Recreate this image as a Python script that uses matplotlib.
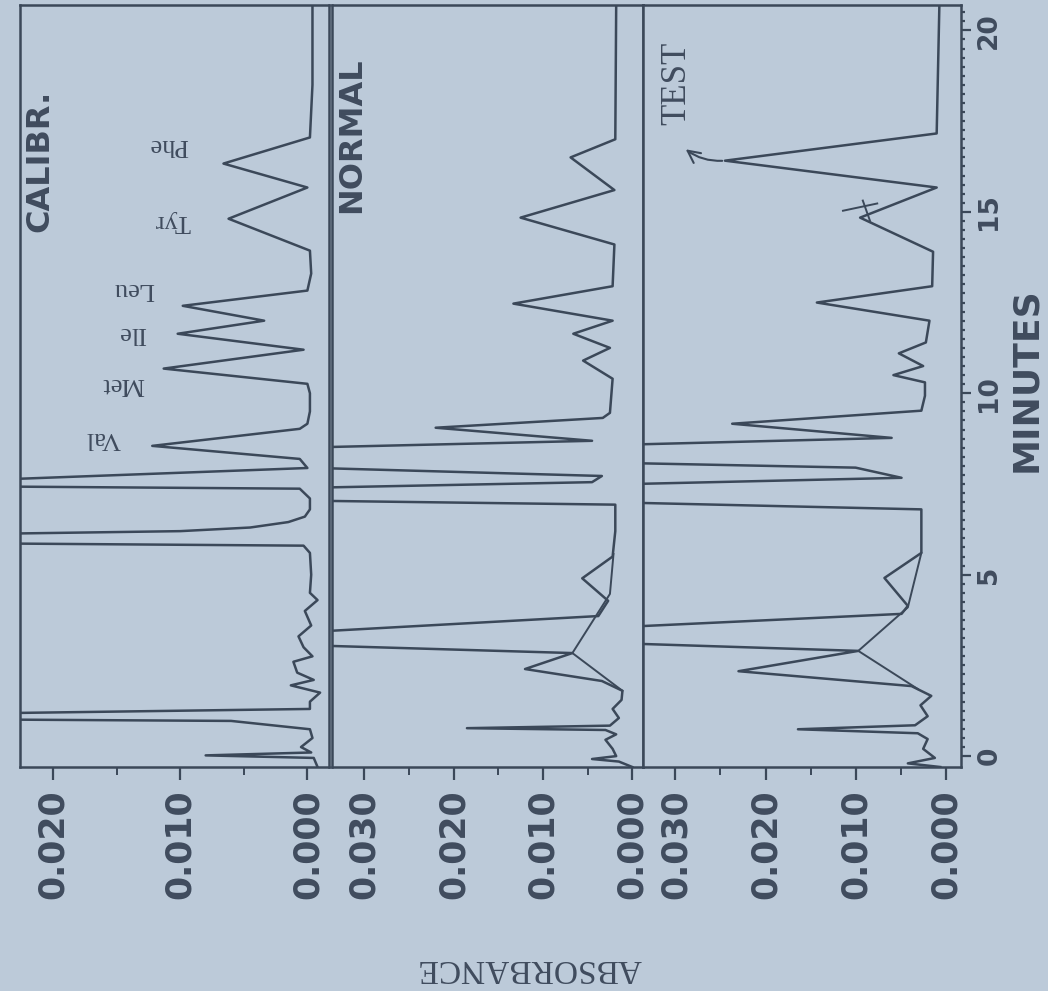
import matplotlib
matplotlib.use("Agg")
import matplotlib.pyplot as plt
from matplotlib.ticker import FixedLocator, FuncFormatter

# ---------------- data (time in minutes, absorbance in AU) ----------------
calibr_time = [-0.3, -0.05, 0.02, 0.1, 0.25, 0.5, 0.74, 0.97, 1.06, 1.3, 1.5, 1.75, 1.95,
               2.1, 2.3, 2.6, 2.75, 3.0, 3.3, 3.6, 4.0, 4.3, 4.5, 5.0, 5.6, 5.8, 5.95,
               6.13, 6.2, 6.3, 6.45, 6.6, 6.8, 7.1, 7.37, 7.52, 7.6, 7.94, 8.19, 8.55,
               9.02, 9.16, 9.5, 10.0, 10.26, 10.68, 11.2, 11.64, 12.0, 12.41, 12.83,
               13.3, 13.93, 14.81, 15.67, 16.33, 17.05, 18.5, 20.7]
calibr_abs = [-0.0008, -0.0005, 0.0080, -0.0003, 0.0005, -0.0004, -0.0002, 0.0060, 0.0500,
              -0.0002, -0.0002, -0.0010, 0.0013, -0.0005, 0.0008, 0.0011, -0.0004, 0.0003,
              0.0007, -0.0003, 0.0002, -0.0008, -0.0002, -0.0003, -0.0002, 0.0003, 0.0600,
              0.0240, 0.0100, 0.0045, 0.0015, 0.0002, -0.0002, -0.0002, 0.0006, 0.0600,
              0.0260, 0.0000, 0.0006, 0.0122, 0.0006, 0.0000, -0.0002, -0.0002, 0.0000,
              0.0113, 0.0003, 0.0102, 0.0034, 0.0098, 0.0000, -0.0003, -0.0002, 0.0062,
              0.0000, 0.0066, -0.0002, -0.0004, -0.0004]

normal_time = [-0.3, -0.15, -0.08, 0.0, 0.2, 0.45, 0.6, 0.72, 0.77, 0.84, 1.05, 1.3, 1.55,
               1.8, 2.07, 2.4, 2.84, 3.3, 3.45, 3.86, 4.28, 4.9, 5.5, 6.2, 6.93, 7.18,
               7.55, 7.72, 8.25, 8.69, 9.05, 9.32, 9.46, 10.4, 10.9, 11.25, 11.64, 12.0,
               12.47, 12.95, 14.1, 14.84, 15.6, 16.5, 17.0, 20.7]
normal_abs = [0.0000, 0.0015, 0.0045, 0.0018, 0.0022, 0.0030, 0.0018, 0.0030, 0.0185,
              0.0025, 0.0015, 0.0022, 0.0012, 0.0011, 0.0034, 0.0120, 0.0067, 0.0700,
              0.0340, 0.0038, 0.0027, 0.0056, 0.0022, 0.0019, 0.0019, 0.0800, 0.0045,
              0.0034, 0.0800, 0.0045, 0.0220, 0.0033, 0.0025, 0.0022, 0.0055, 0.0025,
              0.0066, 0.0022, 0.0133, 0.0022, 0.0020, 0.0125, 0.0020, 0.0069, 0.0019,
              0.0018]
normal_skim_time = [1.8, 2.84, 4.47, 5.57]
normal_skim_abs = [0.0011, 0.0067, 0.0025, 0.0021]

test_time = [-0.3, -0.2, -0.05, 0.2, 0.47, 0.63, 0.74, 0.85, 1.1, 1.4, 1.66, 1.93, 2.34,
             2.9, 3.38, 3.58, 3.92, 4.14, 4.91, 5.6, 6.8, 7.24, 7.67, 7.95, 8.3, 8.77,
             9.16, 9.52, 9.93, 10.3, 10.5, 10.75, 11.1, 11.4, 12.0, 12.5, 12.95, 13.9,
             14.84, 15.67, 16.41, 17.16, 20.7]
test_abs = [0.0006, 0.0042, 0.0012, 0.0025, 0.0020, 0.0031, 0.0164, 0.0034, 0.0020,
            0.0028, 0.0016, 0.0038, 0.0230, 0.0097, 0.0700, 0.0340, 0.0049, 0.0042,
            0.0068, 0.0027, 0.0027, 0.0800, 0.0049, 0.0100, 0.0800, 0.0060, 0.0237,
            0.0027, 0.0023, 0.0023, 0.0058, 0.0025, 0.0052, 0.0022, 0.0018, 0.0143,
            0.0015, 0.0014, 0.0095, 0.0010, 0.0245, 0.0010, 0.0007]
test_skim_time = [1.85, 2.9, 4.1, 5.6]
test_skim_abs = [0.0031, 0.0097, 0.0042, 0.0027]

amino_labels = ["Val", "Met", "Ile", "Leu", "Tyr", "Phe"]
amino_label_time = [8.77, 10.26, 11.67, 12.88, 14.76, 16.83]
amino_label_abs = [0.0161, 0.0145, 0.0138, 0.0137, 0.0106, 0.0109]

panel_names = ["CALIBR.", "NORMAL", "TEST"]
calibr_ticks = [0.020, 0.010, 0.000]
calibr_minor = [0.015, 0.005]
other_ticks = [0.030, 0.020, 0.010, 0.000]
other_minor = [0.025, 0.015, 0.005]
minute_ticks = [0, 5, 10, 15, 20]

# ---------------- style ----------------
BG = "#bccad9"
INK = "#3b4859"
TXT = "#404c5e"
W, H = 1048, 991

fig = plt.figure(figsize=(W / 100, H / 100), dpi=100)
fig.patch.set_facecolor(BG)

def fx(px):
    return px / W

bottom = 1 - 767 / H
height = (767 - 5) / H
ax_c = fig.add_axes([fx(20), bottom, fx(329 - 20), height])
ax_n = fig.add_axes([fx(332), bottom, fx(643 - 332), height], sharey=ax_c)
ax_t = fig.add_axes([fx(643), bottom, fx(961 - 643), height], sharey=ax_c)

fmt = FuncFormatter(lambda v, p: f"{v:.3f}")

for ax, xlim, major, minor in [
    (ax_c, (0.0226, -0.0017), calibr_ticks, calibr_minor),
    (ax_n, (0.0336, -0.0012), other_ticks, other_minor),
    (ax_t, (0.0336, -0.0017), other_ticks, other_minor),
]:
    ax.set_facecolor(BG)
    ax.set_xlim(*xlim)
    ax.set_ylim(-0.3, 20.7)
    ax.xaxis.set_major_locator(FixedLocator(major))
    ax.xaxis.set_minor_locator(FixedLocator(minor))
    ax.xaxis.set_major_formatter(fmt)
    ax.tick_params(axis="x", which="major", direction="out", length=9, width=1.6,
                   color=INK, pad=7, labelsize=25, labelcolor=TXT, labelrotation=90)
    ax.tick_params(axis="x", which="minor", direction="out", length=6, width=1.4, color=INK)
    for lab in ax.get_xticklabels():
        lab.set_fontweight("bold")
    ax.tick_params(axis="y", which="both", left=False, right=False,
                   labelleft=False, labelright=False)
    for sp in ax.spines.values():
        sp.set_color(INK)
        sp.set_linewidth(1.8)

# time axis on the right of the TEST panel
ax_t.yaxis.set_major_locator(FixedLocator(minute_ticks))
ax_t.yaxis.set_minor_locator(FixedLocator([i * 0.25 for i in range(0, 83)]))
ax_t.tick_params(axis="y", which="major", right=True, direction="out", length=7,
                 width=1.6, color=INK, labelright=True, labelsize=19, labelcolor=TXT,
                 labelrotation=90, pad=4)
ax_t.tick_params(axis="y", which="minor", right=True, direction="out", length=3,
                 width=1.6, color=INK)
for lab in ax_t.get_yticklabels():
    lab.set_fontweight("bold")
    lab.set_va("center")

# traces
lw = 1.8
ax_c.plot(calibr_abs, calibr_time, color=INK, lw=lw, solid_joinstyle="round")
ax_n.plot(normal_abs, normal_time, color=INK, lw=lw, solid_joinstyle="round")
ax_n.plot(normal_skim_abs, normal_skim_time, color=INK, lw=1.4)
ax_t.plot(test_abs, test_time, color=INK, lw=lw, solid_joinstyle="round")
ax_t.plot(test_skim_abs, test_skim_time, color=INK, lw=1.4)

# amino-acid labels (upside down, serif)
for name, t, a in zip(amino_labels, amino_label_time, amino_label_abs):
    ax_c.text(a, t, name, rotation=180, ha="center", va="center", fontsize=19,
              family="Liberation Serif", color=TXT)

# panel names
ax_c.text(0.021, 16.4, panel_names[0], rotation=90, ha="center", va="center",
          fontsize=23, fontweight="bold", color=TXT, family="DejaVu Sans")
ax_n.text(0.0314, 17.1, panel_names[1], rotation=90, ha="center", va="center",
          fontsize=23, fontweight="bold", color=TXT, family="DejaVu Sans")
ax_t.text(0.0298, 18.55, panel_names[2], rotation=90, ha="center", va="center",
          fontsize=25, color=TXT, family="Liberation Serif")

# hand-drawn arrow and mark on TEST panel
ax_t.annotate("", xy=(0.0291, 16.77), xytext=(0.0245, 16.41),
              arrowprops=dict(arrowstyle="->", color=INK, lw=1.5,
                              connectionstyle="arc3,rad=-0.2", mutation_scale=22))
ax_t.plot([0.0114, 0.0076], [15.03, 15.23], color=INK, lw=1.4)
ax_t.plot([0.0092, 0.0084], [15.31, 14.75], color=INK, lw=1.4)

# axis titles
fig.text(fx(1026), 1 - 380 / H, "MINUTES", rotation=90, ha="center", va="center",
         fontsize=26, fontweight="bold", color=TXT, family="DejaVu Sans")
fig.text(fx(529), 1 - 968 / H, "ABSORBANCE", rotation=180, ha="center", va="center",
         fontsize=24, color=TXT, family="Liberation Serif")

fig.savefig("out.png", dpi=100, facecolor=BG)
